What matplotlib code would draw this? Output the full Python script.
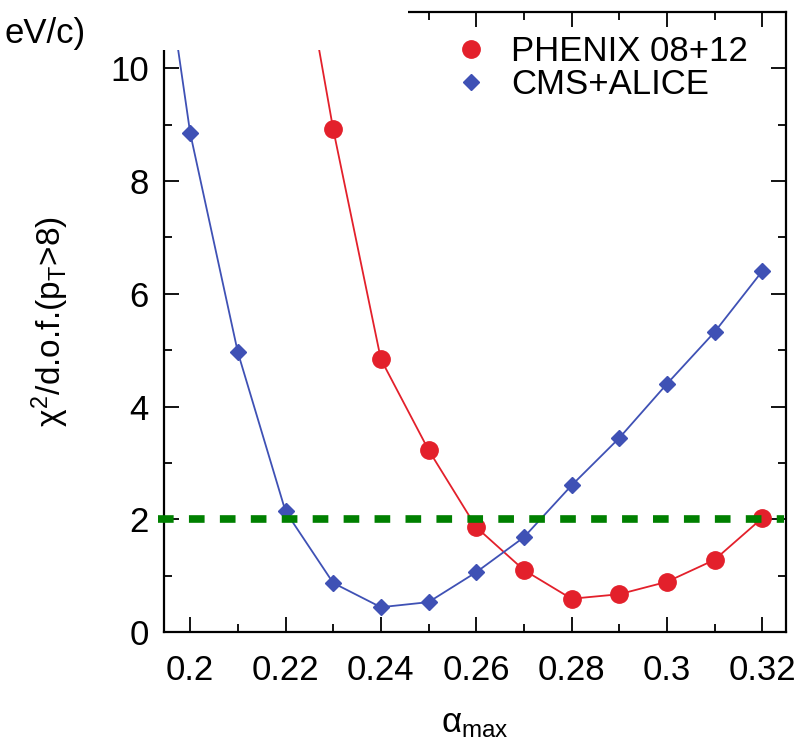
import numpy as np
import matplotlib
matplotlib.use("Agg")
import matplotlib.pyplot as plt
from matplotlib.patches import Rectangle
from matplotlib.ticker import MultipleLocator

plt.rcParams["font.family"] = ["Liberation Sans", "DejaVu Sans"]
plt.rcParams["mathtext.fontset"] = "custom"
plt.rcParams["mathtext.rm"] = "Liberation Sans"
plt.rcParams["mathtext.it"] = "Liberation Sans"

# alpha_max values and chi2/dof
alpha_cms = [0.19, 0.20, 0.21, 0.22, 0.23, 0.24, 0.25, 0.26, 0.27, 0.28, 0.29, 0.30, 0.31, 0.32]
chi2_cms = [14.7, 8.85, 4.96, 2.14, 0.87, 0.44, 0.53, 1.06, 1.68, 2.60, 3.44, 4.40, 5.32, 6.40]

alpha_phenix = [0.22, 0.23, 0.24, 0.25, 0.26, 0.27, 0.28, 0.29, 0.30, 0.31, 0.32]
chi2_phenix = [13.7, 8.92, 4.84, 3.23, 1.86, 1.10, 0.59, 0.67, 0.89, 1.28, 2.02]

chi2_limit = 2.0

W, H = 801, 744
fig = plt.figure(figsize=(W / 100, H / 100), dpi=100)
ax = fig.add_axes([164 / W, 1 - 632 / H, (786 - 164) / W, (632 - 12) / H])

ax.plot(alpha_phenix, chi2_phenix, "-o", color="#e3202b", lw=1.3, ms=12.5,
        label="PHENIX 08+12", zorder=3)
ax.plot(alpha_cms, chi2_cms, "-D", color="#3f51b5", lw=1.3, ms=8,
        label="CMS+ALICE", zorder=3)
ax.plot([0.1933, 0.3245], [chi2_limit, chi2_limit], color="#008000", lw=5.5,
        ls=(0, (2.05, 2.0)), clip_on=False, zorder=4)

ax.set_xlim(0.1945, 0.325)
ax.set_ylim(0, 11)
ax.xaxis.set_minor_locator(MultipleLocator(0.01))
ax.yaxis.set_major_locator(MultipleLocator(2))
ax.yaxis.set_minor_locator(MultipleLocator(1))
ax.set_xticks([0.2, 0.22, 0.24, 0.26, 0.28, 0.3, 0.32])
ax.set_xticklabels(["0.2", "0.22", "0.24", "0.26", "0.28", "0.3", "0.32"])
ax.tick_params(which="both", direction="in", top=True, right=True, labelsize=25, width=1.3)
ax.tick_params(which="major", length=11)
ax.tick_params(which="minor", length=6)
ax.tick_params(axis="x", which="major", pad=15.5)
ax.tick_params(axis="y", which="major", pad=11)
for s in ax.spines.values():
    s.set_linewidth(1.6)

ax.set_xlabel(r"$\alpha_{\rm max}$", fontsize=25, labelpad=15)
ax.set_ylabel(r"$\chi^2$/d.o.f.(p$_{\rm T}$>8)", fontsize=24, labelpad=28)

leg = ax.legend(loc="upper left", frameon=False, fontsize=25, handlelength=1.0,
                handletextpad=0.64, labelspacing=0.0, borderpad=0, borderaxespad=0,
                bbox_to_anchor=(454 / W, 1 - 35 / H), bbox_transform=fig.transFigure)
for h in leg.legend_handles:
    h.set_linestyle("none")

# white block over the upper-left corner, as in the cropped original
fig.patches.append(Rectangle((0, 1 - 50 / H), 408 / W, 50 / H,
                             transform=fig.transFigure, facecolor="white",
                             edgecolor="none", zorder=10))
fig.text(86 / W, 1 - 33 / H, "eV/c)", fontsize=25, ha="right", va="center", zorder=11)

fig.savefig("out.png", dpi=100)
